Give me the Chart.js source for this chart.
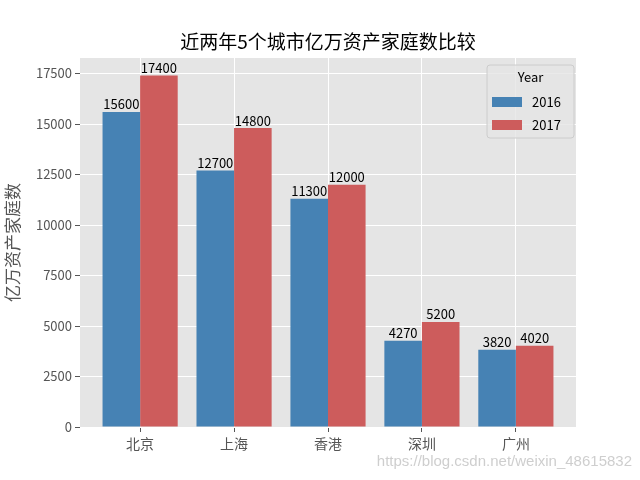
<!DOCTYPE html>
<html>
<head>
<meta charset="utf-8">
<script src="https://cdn.jsdelivr.net/npm/chart.js@4/dist/chart.umd.min.js"></script>
<style>
    body { margin: 0; background: #fff; }
</style>
</head>
<body>
<canvas id="cityChart" width="640" height="480"></canvas>
<script>
let cities = ["北京", "上海", "香港", "深圳", "广州"];
let years = ["2016", "2017"];
let values2016 = [15600, 12700, 11300, 4270, 3820];
let values2017 = [17400, 14800, 12000, 5200, 4020];
let yTicks = [0, 2500, 5000, 7500, 10000, 12500, 15000, 17500];

let cjk = "'Noto Sans CJK SC', 'Noto Sans', sans-serif";

function toPoints(vals) {
    let pts = [];
    for (let i = 0; i < vals.length; i++) {
        pts.push({ x: i, y: vals[i] });
    }
    return pts;
}

let decoPlugin = {
    id: "deco",
    beforeDraw: function (chart) {
        let ctx = chart.ctx;
        let a = chart.chartArea;
        ctx.save();
        ctx.fillStyle = "#ffffff";
        ctx.fillRect(0, 0, chart.width, chart.height);
        ctx.fillStyle = "#e5e5e5";
        ctx.fillRect(a.left, a.top, a.right - a.left, a.bottom - a.top);
        ctx.restore();
    },
    afterDraw: function (chart) {
        let ctx = chart.ctx;
        let a = chart.chartArea;
        ctx.save();

        // title
        ctx.fillStyle = "#000";
        ctx.font = "19px " + cjk;
        ctx.textAlign = "center";
        ctx.textBaseline = "middle";
        ctx.fillText("近两年5个城市亿万资产家庭数比较", (a.left + a.right) / 2, 42);

        // value labels
        ctx.font = "13px " + cjk;
        ctx.textBaseline = "bottom";
        chart.data.datasets.forEach(function (ds, di) {
            let meta = chart.getDatasetMeta(di);
            meta.data.forEach(function (bar, i) {
                ctx.fillText(String(ds.data[i].y), bar.x, bar.y - 1);
            });
        });

        // legend
        let lx = 487, ly = 65, lw = 87, lh = 73;
        ctx.beginPath();
        ctx.roundRect(lx, ly, lw, lh, 3);
        ctx.fillStyle = "rgba(229,229,229,0.8)";
        ctx.fill();
        ctx.strokeStyle = "#cccccc";
        ctx.lineWidth = 1;
        ctx.stroke();
        ctx.fillStyle = "#000";
        ctx.font = "13px " + cjk;
        ctx.textBaseline = "middle";
        ctx.textAlign = "center";
        ctx.fillText("Year", lx + lw / 2, 77);
        ctx.textAlign = "left";
        chart.data.datasets.forEach(function (ds, di) {
            let ry = 102 + di * 23;
            ctx.fillStyle = ds.backgroundColor;
            ctx.fillRect(492, ry - 5, 30, 10);
            ctx.fillStyle = "#000";
            ctx.fillText(ds.label, 532, ry);
        });

        // watermark
        ctx.fillStyle = "rgba(190,190,190,0.75)";
        ctx.font = "15px 'Liberation Sans', Arial, sans-serif";
        ctx.textAlign = "right";
        ctx.textBaseline = "middle";
        ctx.fillText("https://blog.csdn.net/weixin_48615832", 632, 462);
        ctx.restore();
    }
};

let ctx = document.getElementById("cityChart").getContext("2d");
let myBar = new Chart(ctx, {
    type: "bar",
    data: {
        datasets: [{
            label: years[0],
            data: toPoints(values2016),
            backgroundColor: "#4682b4"
        }, {
            label: years[1],
            data: toPoints(values2017),
            backgroundColor: "#cd5c5c"
        }]
    },
    plugins: [decoPlugin],
    options: {
        responsive: false,
        animation: false,
        layout: { padding: { left: 0, top: 58, right: 64, bottom: 0 } },
        datasets: {
            bar: { categoryPercentage: 0.8, barPercentage: 1.0 }
        },
        plugins: {
            legend: { display: false },
            tooltip: { enabled: false }
        },
        scales: {
            x: {
                type: "linear",
                min: -0.64,
                max: 4.64,
                offset: false,
                afterBuildTicks: function (scale) {
                    scale.ticks = cities.map(function (c, i) { return { value: i }; });
                },
                afterFit: function (scale) { scale.height = 53; },
                border: { display: false },
                grid: {
                    offset: false,
                    color: "#ffffff",
                    lineWidth: 1,
                    tickColor: "#555555",
                    tickLength: 5
                },
                ticks: {
                    color: "#555555",
                    font: { size: 14, family: cjk },
                    padding: 3,
                    maxRotation: 0,
                    callback: function (v) { return cities[v]; }
                }
            },
            y: {
                min: 0,
                max: 18270,
                afterBuildTicks: function (scale) {
                    scale.ticks = yTicks.map(function (t) { return { value: t }; });
                },
                afterFit: function (scale) { scale.width = 80; },
                border: { display: false },
                grid: {
                    color: "#ffffff",
                    lineWidth: 1,
                    tickColor: "#555555",
                    tickLength: 5
                },
                ticks: {
                    color: "#555555",
                    font: { size: 13, family: cjk },
                    padding: 3,
                    callback: function (v) { return String(v); }
                },
                title: {
                    display: true,
                    text: "亿万资产家庭数",
                    color: "#555555",
                    font: { size: 17, family: cjk },
                    padding: { top: 2, bottom: 0 }
                }
            }
        }
    }
});
</script>
</body>
</html>
